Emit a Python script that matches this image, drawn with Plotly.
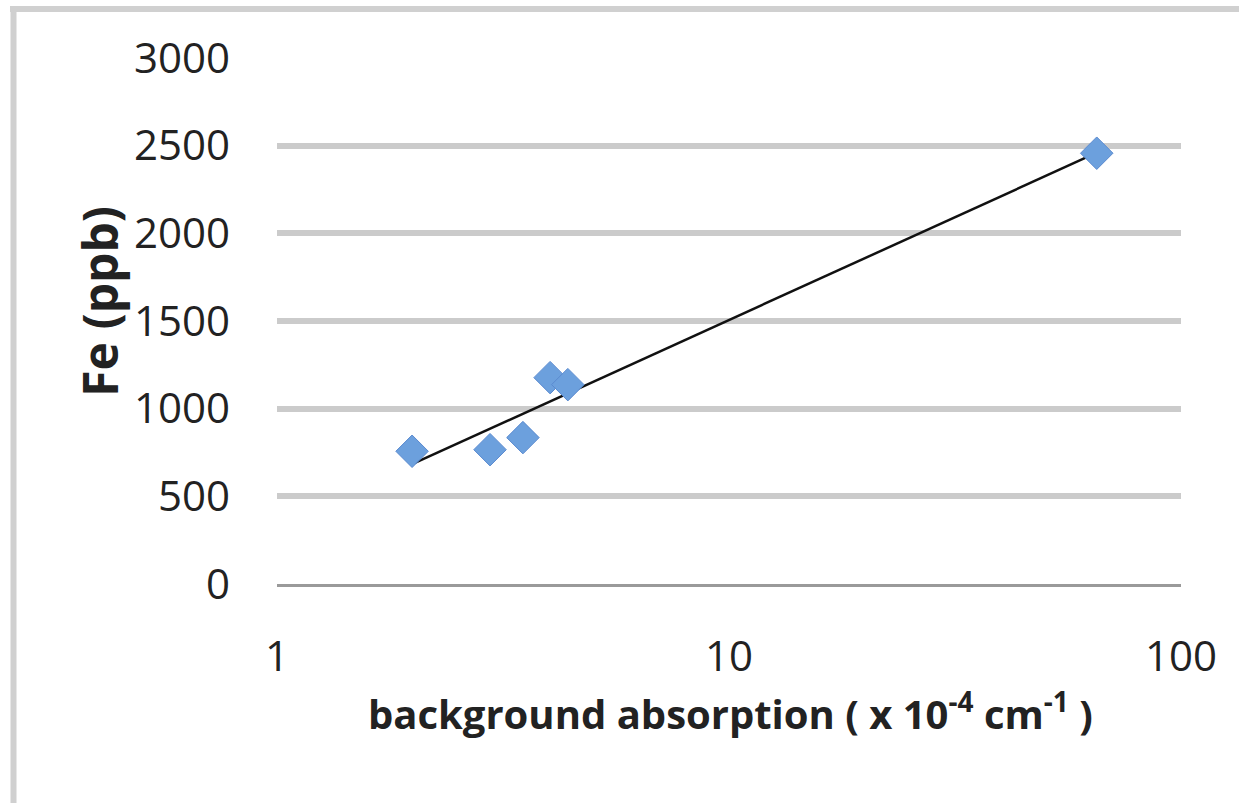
import numpy as np
import plotly.graph_objects as go

# data
absorption = [1.99, 2.96, 3.50, 4.02, 4.40, 65.1]   # background absorption (x 10^-4 cm^-1)
fe_ppb = [757, 766, 835, 1177, 1137, 2457]           # Fe (ppb)
y_ticks = [0, 500, 1000, 1500, 2000, 2500, 3000]
x_ticks = [1, 10, 100]

# logarithmic trendline (least squares of y on ln x)
lx = np.log(absorption)
a, b = np.polyfit(lx, fe_ppb, 1)
tx = np.array([min(absorption), max(absorption)])
ty = a * np.log(tx) + b

W, H = 1239, 803
L, R, T, B = 277, 58, 58, 218.5
pw, ph = W - L - R, H - T - B

def px(x):
    return (x - L) / pw

def py(y):
    return (H - B - y) / ph

fig = go.Figure()
fig.add_trace(go.Scatter(
    x=tx, y=ty, mode="lines",
    line=dict(color="#111111", width=2.5),
    hoverinfo="skip", showlegend=False))
fig.add_trace(go.Scatter(
    x=absorption, y=fe_ppb, mode="markers",
    marker=dict(symbol="diamond", size=25, color="#6ca0dd",
                line=dict(color="#5a8ad0", width=1)),
    showlegend=False))

font = "Open Sans, Lato, sans-serif"
fig.update_layout(
    width=W, height=H,
    margin=dict(l=L, r=R, t=T, b=B, pad=0),
    paper_bgcolor="white", plot_bgcolor="white",
    font=dict(family=font, color="#222222"),
    xaxis=dict(type="log", range=[0, 2], tickvals=x_ticks,
               ticktext=[str(v) for v in x_ticks],
               showgrid=False, zeroline=False, showline=True,
               linecolor="#9a9a9a", linewidth=3, ticks="",
               tickfont=dict(size=42, color="#222222"),
               ticklabelstandoff=34),
    yaxis=dict(range=[0, 3000], tickvals=y_ticks,
               showgrid=True, gridcolor="#cbcbcb", gridwidth=6,
               zeroline=False, showline=False, ticks="",
               tickfont=dict(size=42, color="#222222"),
               ticklabelstandoff=46),
    shapes=[
        dict(type="line", xref="paper", yref="paper",
             x0=px(10), x1=px(W + 5), y0=py(9), y1=py(9),
             line=dict(color="#d0d0d0", width=6)),
        dict(type="line", xref="paper", yref="paper",
             x0=px(13.5), x1=px(13.5), y0=py(6), y1=py(H + 5),
             line=dict(color="#d0d0d0", width=6)),
    ],
    annotations=[
        dict(text="<b>background absorption ( x 10<sup>-4</sup> cm<sup>-1</sup> )</b>",
             xref="paper", yref="paper", x=px(730), y=py(712),
             showarrow=False, xanchor="center", yanchor="middle",
             font=dict(size=40, color="#222222", family=font)),
        dict(text="<b>Fe (ppb)</b>", xref="paper", yref="paper",
             x=px(100), y=py(302), textangle=-90,
             showarrow=False, xanchor="center", yanchor="middle",
             font=dict(size=48, color="#222222", family=font)),
    ],
)

fig.write_html("out.html")
